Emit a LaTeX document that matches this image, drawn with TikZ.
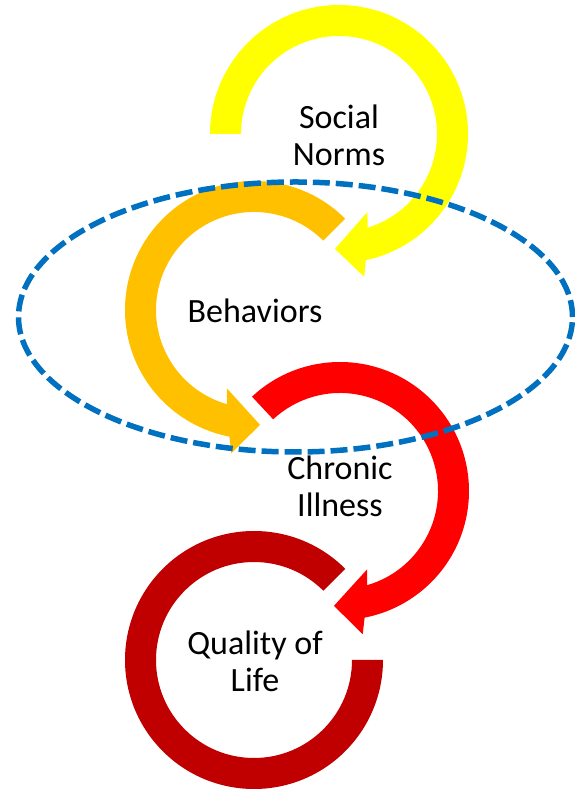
\documentclass[tikz,border=0pt]{standalone}
\usepackage{fontspec}
\setmainfont{Carlito}
\usepackage{tikz}
\usetikzlibrary{positioning}
\definecolor{colornorms}   {RGB}{255,255,0  }
\definecolor{colorbehav}   {RGB}{255,192,0  }
\definecolor{colorillness} {RGB}{255,0  ,0  }
\definecolor{colorlife}    {RGB}{192,0  ,0  }
\definecolor{colorgroup}   {RGB}{0  ,112,192}
\definecolor{colortext}    {RGB}{0  ,0  ,0  }

\begin{document}
\begin{tikzpicture}[
    x=1pt, y=1pt,
    txt/.style={text=colortext,font={\fontsize{34}{37}\selectfont},align=center,inner sep=0pt},
    group/.style={draw=colorgroup,line width=5.5pt,dash pattern=on 17pt off 6pt},
]
    \useasboundingbox (0,0) rectangle (574,792);

    % Ring centres
    \coordinate (normsring)   at (339,658);
    \coordinate (behavring)   at (254,482);
    \coordinate (illnessring) at (340,301);
    \coordinate (lifering)    at (254,132);

    % Arrows
    \fill[colornorms] ([shift={(180:129)}]normsring) arc[start angle=180,end angle=-78,radius=129]
        -- ([shift={(-80:145)}]normsring) -- ([shift={(-92:115)}]normsring)
        -- ([shift={(-70:83)}]normsring) -- ([shift={(-73:98)}]normsring)
        arc[start angle=-73,end angle=180,radius=98] -- cycle;
    \fill[colorbehav] ([shift={(45:129)}]behavring) arc[start angle=45,end angle=259,radius=129]
        -- ([shift={(261:145)}]behavring) -- ([shift={(273:115)}]behavring)
        -- ([shift={(251:83)}]behavring) -- ([shift={(254:98)}]behavring)
        arc[start angle=254,end angle=45,radius=98] -- cycle;
    \fill[colorillness] ([shift={(133:129)}]illnessring) arc[start angle=133,end angle=-79,radius=129]
        -- ([shift={(-81:145)}]illnessring) -- ([shift={(-93:115)}]illnessring)
        -- ([shift={(-71:83)}]illnessring) -- ([shift={(-74:98)}]illnessring)
        arc[start angle=-74,end angle=133,radius=98] -- cycle;
    \fill[colorlife] ([shift={(45:129)}]lifering) arc[start angle=45,end angle=360,radius=129]
        -- ([shift={(0:98)}]lifering)
        arc[start angle=360,end angle=45,radius=98] -- cycle;

    % Text
    \node[txt] (norms)   at (339,657) {Social\\Norms};
    \node[txt] (behav)   at (255,481) {Behaviors};
    \node[txt] (illness) at (340,306) {Chronic\\Illness};
    \node[txt] (life)    at (255,131) {Quality of\\Life};

    % Group
    \draw[group] (295.5,475) ellipse[x radius=277,y radius=135];

\end{tikzpicture}
\end{document}
